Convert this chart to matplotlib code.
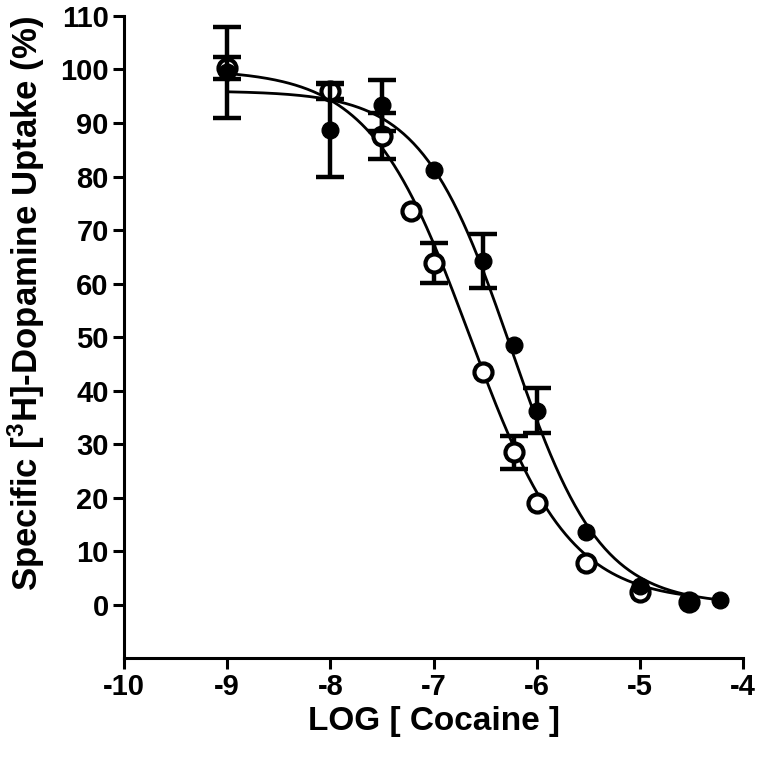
# Cocaine inhibition of specific [3H]-dopamine uptake, two conditions

import matplotlib
matplotlib.use("Agg")
import matplotlib.pyplot as plt
import numpy as np

plt.rcParams["font.family"] = ["Liberation Sans", "DejaVu Sans"]
plt.rcParams["font.weight"] = "bold"

# filled circles
log_filled = [-9, -8, -7.5, -7, -6.52, -6.22, -6, -5.52, -5, -4.52, -4.22]
pct_filled = [99.5, 88.6, 93.3, 81.3, 64.2, 48.6, 36.2, 13.6, 3.5, 0.6, 0.9]
err_filled = [8.5, 8.6, 4.8, 0, 5.0, 0, 4.2, 0, 0, 0, 0]

# open circles
log_open = [-9, -8, -7.5, -7.22, -7, -6.52, -6.22, -6, -5.52, -5, -4.52]
pct_open = [100.3, 96.0, 87.6, 73.6, 63.8, 43.5, 28.5, 18.9, 7.7, 2.4, 0.5]
err_open = [2.0, 1.5, 4.3, 0, 3.7, 0, 3.1, 0, 0, 0, 0]

# sigmoid fit parameters (top, bottom, logIC50, hill slope)
fit_filled = (96.0, 0.0, -6.25, 1.0)
fit_open = (100.0, 0.5, -6.65, 0.9)


def sigmoid(x, top, bottom, logic50, hill):
    return bottom + (top - bottom) / (1 + 10 ** ((x - logic50) * hill))


def with_err(xs, ys, es):
    keep = [i for i, e in enumerate(es) if e > 0]
    return [xs[i] for i in keep], [ys[i] for i in keep], [es[i] for i in keep]


fig = plt.figure(figsize=(7.58, 7.6), dpi=100)
ax = fig.add_axes([0.1636, 0.134, 0.8166, 0.845])

xf = np.linspace(-9, -4.22, 300)
xo = np.linspace(-9, -4.52, 300)
ax.plot(xf, sigmoid(xf, *fit_filled), color="black", lw=2, zorder=2)
ax.plot(xo, sigmoid(xo, *fit_open), color="black", lw=2, zorder=2)

ex, ey, ee = with_err(log_open, pct_open, err_open)
ax.errorbar(ex, ey, yerr=ee, fmt="none", ecolor="black", elinewidth=3.2,
            capsize=10, capthick=3.2, zorder=3)
ax.plot(log_open, pct_open, "o", mfc="white", mec="black", mew=3, ms=13, zorder=3)

ex, ey, ee = with_err(log_filled, pct_filled, err_filled)
ax.errorbar(ex, ey, yerr=ee, fmt="none", ecolor="black", elinewidth=3.2,
            capsize=10, capthick=3.2, zorder=4)
ax.plot(log_filled, pct_filled, "o", color="black", ms=12, zorder=4)

ax.set_xlim(-10, -4)
ax.set_ylim(-10, 110)
ax.set_xticks(np.arange(-10, -3, 1))
ax.set_yticks(np.arange(0, 111, 10))
ax.set_xticklabels([str(v) for v in range(-10, -3)])

for s in ["top", "right"]:
    ax.spines[s].set_visible(False)
for s in ["left", "bottom"]:
    ax.spines[s].set_linewidth(2.2)
ax.tick_params(width=2.2, length=8, labelsize=21, pad=3)
for lab in ax.get_xticklabels() + ax.get_yticklabels():
    lab.set_fontweight("bold")

ax.set_xlabel("LOG [ Cocaine ]", fontsize=24, fontweight="bold", labelpad=3)
ax.set_ylabel(r"Specific [$\mathregular{^3}$H]-Dopamine Uptake (%)", fontsize=25,
              fontweight="bold")
ax.yaxis.set_label_coords(-0.125, 0.553)

fig.savefig("out.png", dpi=100)
